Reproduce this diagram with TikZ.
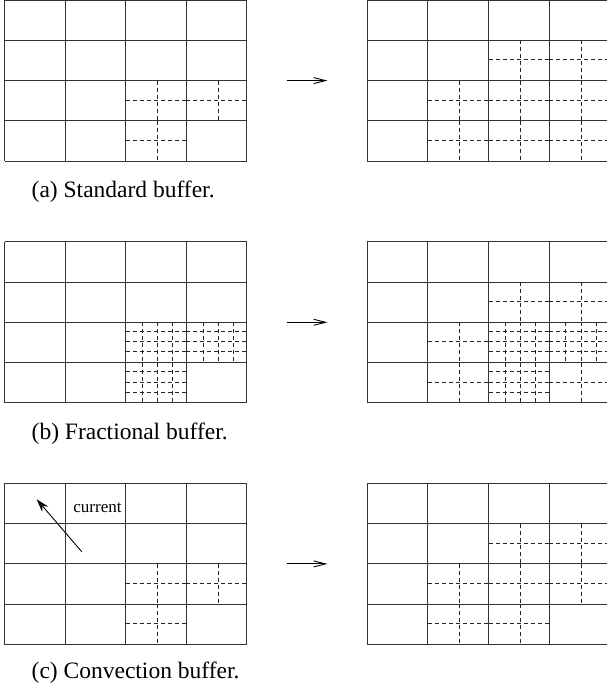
\documentclass[tikz,border=0pt]{standalone}
\usepackage{fontspec}
\setmainfont{Liberation Serif}
\usetikzlibrary{arrows.meta}
\tikzset{
  gridline/.style={draw=black!80, line width=0.9pt},
  dsh/.style={draw=black!85, line width=0.8pt, dash pattern=on 4pt off 3pt},
  caption/.style={anchor=base west, inner sep=0pt, font=\fontsize{23.5}{28}\selectfont},
  bigarrow/.style={draw=black, line width=0.9pt, -{Straight Barb[length=12pt,width=6pt]}},
}
\newcommand\cw{60.6}
\newcommand\rh{40.3}
% 4x4 grid at top-left (#1,#2)
\newcommand\drawgrid[2]{%
  \foreach \i in {0,...,4} {
    \draw[gridline] ({#1+\i*\cw},{#2}) -- ++(0,{4*\rh});
    \draw[gridline] ({#1},{#2+\i*\rh}) -- ++({4*\cw},0);
  }%
}
% split cell (col #3,row #4) of grid at (#1,#2) into #5 x #5
\newcommand\cellsplit[5]{%
  \pgfmathtruncatemacro\nm{#5-1}%
  \foreach \k in {1,...,\nm} {
    \draw[dsh] ({#1+(#3+\k/#5)*\cw+1.6},{#2+#4*\rh}) -- ++(0,\rh);
    \draw[dsh] ({#1+#3*\cw},{#2+(#4+\k/#5)*\rh-0.8}) -- ++(\cw,0);
  }%
}
\begin{document}
\begin{tikzpicture}[x=1pt,y=-1pt]
\useasboundingbox (0,0) rectangle (607,690);
\def\xl{4.5}
\def\xr{367.3}
\def\ya{0}
\def\yb{241.7}
\def\yc{483.3}
% ---------- (a) ----------
\drawgrid{\xl}{\ya}
\cellsplit{\xl}{\ya}{2}{2}{2}
\cellsplit{\xl}{\ya}{3}{2}{2}
\cellsplit{\xl}{\ya}{2}{3}{2}
\drawgrid{\xr}{\ya}
\cellsplit{\xr}{\ya}{2}{1}{2}
\cellsplit{\xr}{\ya}{3}{1}{2}
\cellsplit{\xr}{\ya}{1}{2}{2}
\cellsplit{\xr}{\ya}{2}{2}{2}
\cellsplit{\xr}{\ya}{3}{2}{2}
\cellsplit{\xr}{\ya}{1}{3}{2}
\cellsplit{\xr}{\ya}{2}{3}{2}
\cellsplit{\xr}{\ya}{3}{3}{2}
\coordinate (a1) at (286.7,80.6);
\coordinate (a2) at (327.5,80.6);
\draw[bigarrow] (a1) -- (a2);
\node[caption] (capa) at (31.5,197.5) {(a) Standard buffer.};
% ---------- (b) ----------
\drawgrid{\xl}{\yb}
\cellsplit{\xl}{\yb}{2}{2}{4}
\cellsplit{\xl}{\yb}{3}{2}{4}
\cellsplit{\xl}{\yb}{2}{3}{4}
\drawgrid{\xr}{\yb}
\cellsplit{\xr}{\yb}{2}{1}{2}
\cellsplit{\xr}{\yb}{3}{1}{2}
\cellsplit{\xr}{\yb}{1}{2}{2}
\cellsplit{\xr}{\yb}{2}{2}{4}
\cellsplit{\xr}{\yb}{3}{2}{4}
\cellsplit{\xr}{\yb}{1}{3}{2}
\cellsplit{\xr}{\yb}{2}{3}{4}
\cellsplit{\xr}{\yb}{3}{3}{2}
\coordinate (b1) at (286.7,322.3);
\coordinate (b2) at (327.5,322.3);
\draw[bigarrow] (b1) -- (b2);
\node[caption] (capb) at (31.5,439.2) {(b) Fractional buffer.};
% ---------- (c) ----------
\drawgrid{\xl}{\yc}
\cellsplit{\xl}{\yc}{2}{2}{2}
\cellsplit{\xl}{\yc}{3}{2}{2}
\cellsplit{\xl}{\yc}{2}{3}{2}
\coordinate (ct) at (81.7,551.7);
\coordinate (ch) at (36.7,499.3);
\draw[line width=0.9pt, -{Stealth[length=13pt,width=8pt]}] (ct) -- (ch);
\node[inner sep=0pt, anchor=base, font=\fontsize{17}{20}\selectfont] (cur) at (97.5,512) {current};
\drawgrid{\xr}{\yc}
\cellsplit{\xr}{\yc}{2}{1}{2}
\cellsplit{\xr}{\yc}{3}{1}{2}
\cellsplit{\xr}{\yc}{1}{2}{2}
\cellsplit{\xr}{\yc}{2}{2}{2}
\cellsplit{\xr}{\yc}{3}{2}{2}
\cellsplit{\xr}{\yc}{1}{3}{2}
\cellsplit{\xr}{\yc}{2}{3}{2}
\coordinate (c1) at (286.7,563.9);
\coordinate (c2) at (327.5,563.9);
\draw[bigarrow] (c1) -- (c2);
\node[caption] (capc) at (31.5,678) {(c) Convection buffer.};
\end{tikzpicture}
\end{document}
